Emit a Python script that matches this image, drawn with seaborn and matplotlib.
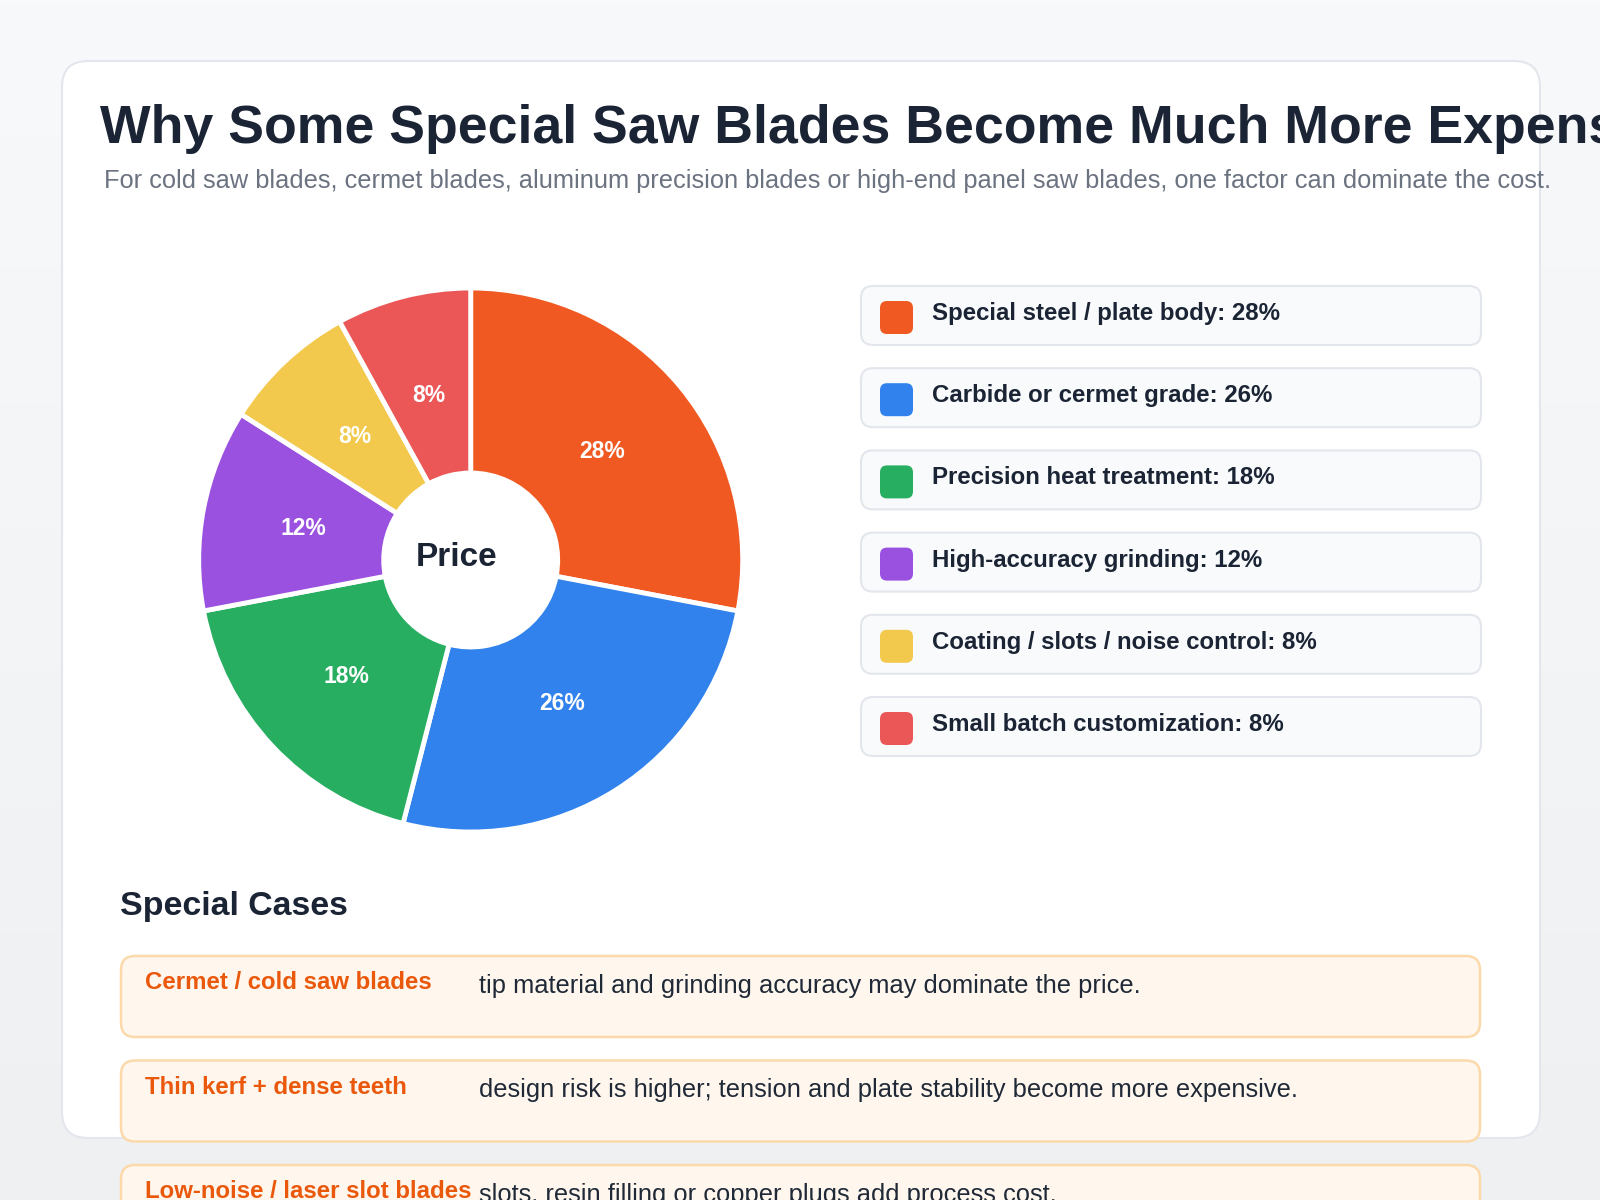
import numpy as np
import matplotlib
matplotlib.use("Agg")
import matplotlib.pyplot as plt
from matplotlib.patches import FancyBboxPatch
from matplotlib.colors import LinearSegmentedColormap
import seaborn as sns

# ---------------- data ----------------
title = "Why Some Special Saw Blades Become Much More Expensive"
subtitle = ("For cold saw blades, cermet blades, aluminum precision blades or high-end "
            "panel saw blades, one factor can dominate the cost.")
categories = ["Special steel / plate body", "Carbide or cermet grade",
              "Precision heat treatment", "High-accuracy grinding",
              "Coating / slots / noise control", "Small batch customization"]
values = [28, 26, 18, 12, 8, 8]
colors = ["#F05A22", "#3182EC", "#27AE60", "#9B51E0", "#F2C94C", "#EB5757"]
center_label = "Price"
cases_heading = "Special Cases"
case_titles = ["Cermet / cold saw blades", "Thin kerf + dense teeth",
               "Low-noise / laser slot blades"]
case_texts = ["tip material and grinding accuracy may dominate the price.",
              "design risk is higher; tension and plate stability become more expensive.",
              "slots, resin filling or copper plugs add process cost."]

# ---------------- style ----------------
sns.set_theme(style="white")
plt.rcParams['font.family'] = ['Liberation Sans', 'DejaVu Sans']

DARK = "#1b2434"
W, H = 1600, 1200
fig = plt.figure(figsize=(16, 12), dpi=100)

bg = fig.add_axes([0, 0, 1, 1])
grad = np.linspace(0, 1, 256).reshape(-1, 1)
bg.imshow(grad, extent=[0, W, H, 0], aspect='auto',
          cmap=LinearSegmentedColormap.from_list("bg", ["#f8f9fb", "#eef0f2"]), zorder=0)
bg.set_xlim(0, W)
bg.set_ylim(H, 0)
bg.axis('off')

# card
bg.add_patch(FancyBboxPatch((62, 61), 1478, 1077,
                            boxstyle="round,pad=0,rounding_size=26",
                            fc="white", ec="#e3e6ec", lw=1.5, zorder=1))

bg.text(100, 143, title, fontsize=38.6, fontweight='bold', color=DARK,
        va='baseline', ha='left', zorder=3)
bg.text(104, 188, subtitle, fontsize=18.3, color="#6b7280",
        va='baseline', ha='left', zorder=3)

# legend rows
for i, (cat, val, col) in enumerate(zip(categories, values, colors)):
    top = 286 + 82.2 * i
    bg.add_patch(FancyBboxPatch((861, top), 620, 59,
                                boxstyle="round,pad=0,rounding_size=12",
                                fc="#f8fafc", ec="#e3e6ec", lw=1.5, zorder=2))
    bg.add_patch(FancyBboxPatch((880, top + 15), 33, 33,
                                boxstyle="round,pad=0,rounding_size=7",
                                fc=col, ec='none', zorder=3))
    bg.text(932, top + 34, f"{cat}: {val}%", fontsize=17.3, fontweight='bold',
            color=DARK, va='baseline', ha='left', zorder=4)

# special cases
bg.text(120, 915, cases_heading, fontsize=24.4, fontweight='bold', color=DARK,
        va='baseline', ha='left', zorder=3)
for i, (ct, tx) in enumerate(zip(case_titles, case_texts)):
    top = 956 + 104.5 * i
    bg.add_patch(FancyBboxPatch((121, top), 1359, 81,
                                boxstyle="round,pad=0,rounding_size=14",
                                fc="#fff7ed", ec="#fbd9ab", lw=1.8, zorder=2))
    bg.text(145, top + 33, ct, fontsize=17.25, fontweight='bold', color="#ea580c",
            va='baseline', ha='left', zorder=4)
    bg.text(479, top + 37, tx, fontsize=18.35, color="#1f2937",
            va='baseline', ha='left', zorder=4)

# donut
cx, cy, half = 470.7, 560, 300
ax = fig.add_axes([(cx - half) / W, (H - cy - half) / H, 2 * half / W, 2 * half / H])
R_OUT, R_IN = 272, 87
wedges, _, autotexts = ax.pie(values, colors=colors, radius=R_OUT, startangle=90,
                              counterclock=False, autopct='%.0f%%',
                              pctdistance=170 / R_OUT,
                              wedgeprops=dict(width=R_OUT - R_IN, edgecolor='white',
                                              linewidth=3.5),
                              textprops=dict(color='white', fontsize=16.5,
                                             fontweight='bold'))
ax.set_xlim(-half, half)
ax.set_ylim(-half, half)
ax.set_aspect('equal')
ax.axis('off')
ax.text(-14, 3, center_label, fontsize=24, fontweight='bold', color=DARK,
        ha='center', va='center')

fig.savefig("out.png", dpi=100)
